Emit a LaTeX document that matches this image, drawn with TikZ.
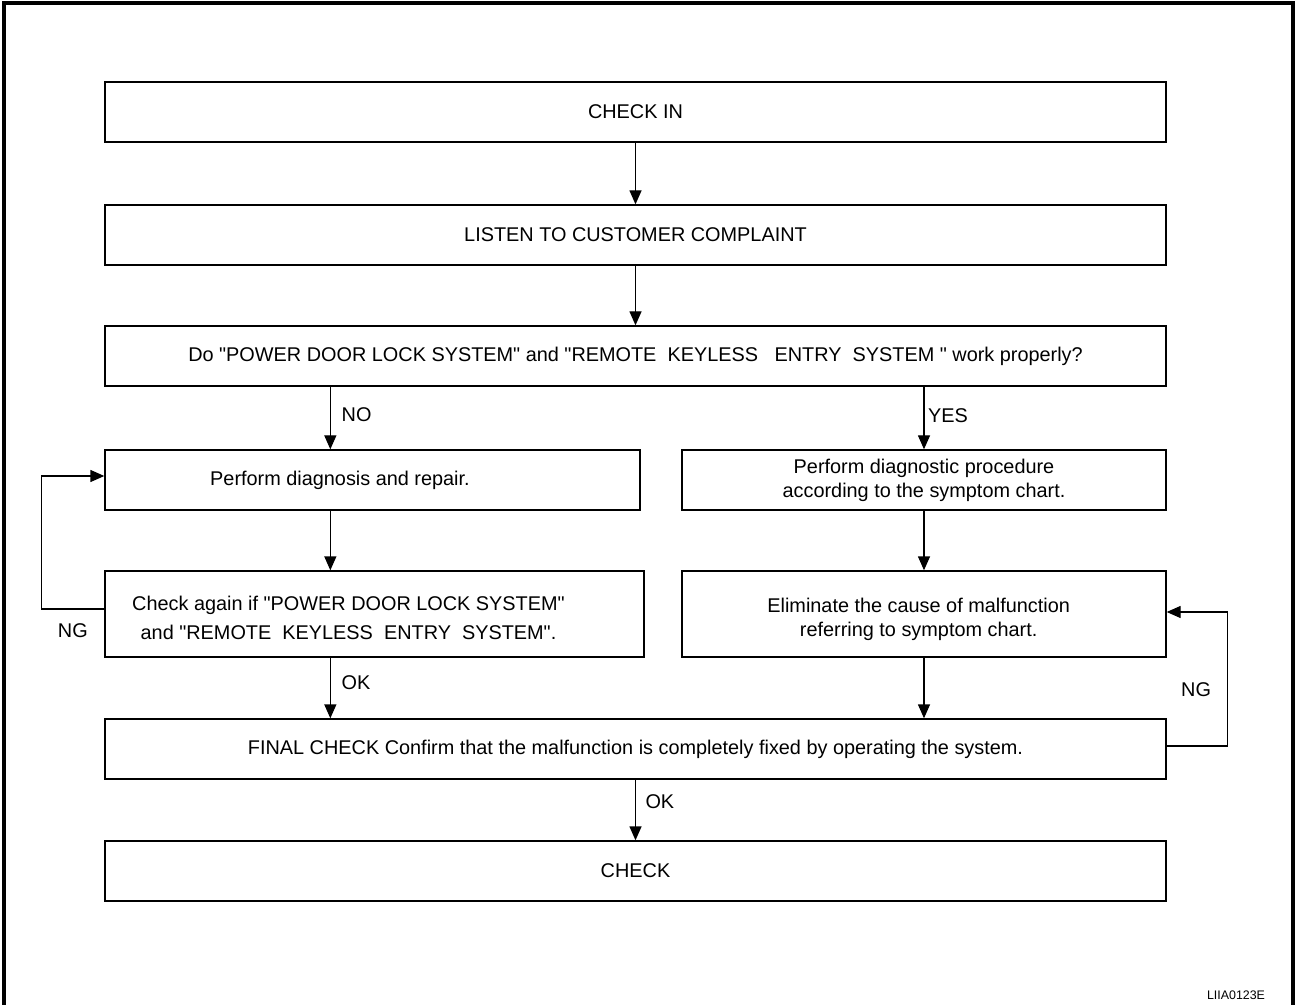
\documentclass[tikz,border=0pt]{standalone}
\usepackage{fontspec}
\setmainfont{Liberation Sans}[Ligatures=TeXOff]
\usetikzlibrary{arrows.meta, positioning}

\begin{document}
\begin{tikzpicture}[
  x=0.75pt, y=-0.75pt,
  font=\fontsize{14.9}{18}\selectfont,
  box/.style={draw, line width=1pt, minimum height=45pt, align=center, inner sep=4pt},
  widebox/.style={box, minimum width=795.75pt},
  arr/.style={-{Triangle[length=10.5pt, width=9pt]}, line width=1pt},
  lbl/.style={inner sep=2pt},
  node distance=45.5pt
]
\useasboundingbox (0,0) rectangle (1296,1005);
\draw[line width=3pt] (3.5,1005) -- (3.5,3.5) -- (1292.5,3.5) -- (1292.5,1005);

\node[widebox] (checkin) at (635.5,112) {CHECK IN};
\node[widebox, below=46.25pt of checkin] (listen) {LISTEN TO CUSTOMER COMPLAINT};
\node[widebox, below=44.75pt of listen] (question) {Do "POWER DOOR LOCK SYSTEM" and "REMOTE~~KEYLESS~~~ENTRY~~SYSTEM~" work properly?};
\node[box, minimum width=401.25pt, below right=47pt and 0pt of question.south west] (repair) {};
\node (repairtext) at ([xshift=-24.4pt]repair.center) {Perform diagnosis and repair.};
\node[box, minimum width=363pt, below left=47pt and 0pt of question.south east] (procedure) {Perform diagnostic procedure\\according to the symptom chart.};
\node[box, minimum width=404.25pt, minimum height=64.5pt, below right=44.75pt and 0pt of repair.south west] (recheck) {};
\node[align=center] (rechecktext) at ([xshift=-19.5pt, yshift=-2.6pt]recheck.center) {Check again if "POWER DOOR LOCK SYSTEM"\\[3.75pt]and "REMOTE~~KEYLESS~~ENTRY~~SYSTEM".};
\node[box, minimum width=363pt, minimum height=64.5pt, below left=44.75pt and 0pt of procedure.south east] (eliminate) {};
\node[align=center] (eliminatetext) at ([xshift=-4pt, yshift=-4pt]eliminate.center) {Eliminate the cause of malfunction\\referring to symptom chart.};
\node[widebox, below right=45.5pt and 0pt of recheck.south west] (final) {FINAL CHECK Confirm that the malfunction is completely fixed by operating the system.};
\node[widebox, below=of final] (check) {CHECK};

\node[font=\fontsize{9.3}{11}\selectfont] (code) at (1236,995) {LIIA0123E};

\coordinate (lx) at ([xshift=169.5pt]repair.north west);

\draw[arr] (checkin) -- (listen);
\draw[arr] (listen) -- (question);
\draw[arr] (question.south -| lx) -- node[lbl, right=6pt, pos=0.44] {NO} (repair.north -| lx);
\draw[arr] (question.south -| procedure.north) -- node[lbl, right=0.5pt, pos=0.47] {YES} (procedure.north);
\draw[arr] (repair.south -| lx) -- (recheck.north -| lx);
\draw[arr] (procedure) -- (eliminate);
\draw[arr] (recheck.south -| lx) -- node[lbl, right=6pt, pos=0.42] {OK} (final.north -| lx);
\draw[arr] (eliminate.south) -- (eliminate.south |- final.north);
\draw[arr] (final) -- node[lbl, right=5pt, pos=0.37] {OK} (check);
% NG loops
\draw[arr] ([yshift=3.75pt]recheck.west) -- node[lbl, below=8.75pt] {NG} ++(-47.25pt,0)
  |- ([yshift=3pt]repair.west);
\draw[arr] ([yshift=2.25pt]final.east) -- ++(45.75pt,0)
  |- node[lbl, left=10pt, pos=0.21] {NG} ([yshift=1.5pt]eliminate.east);
\end{tikzpicture}
\end{document}
